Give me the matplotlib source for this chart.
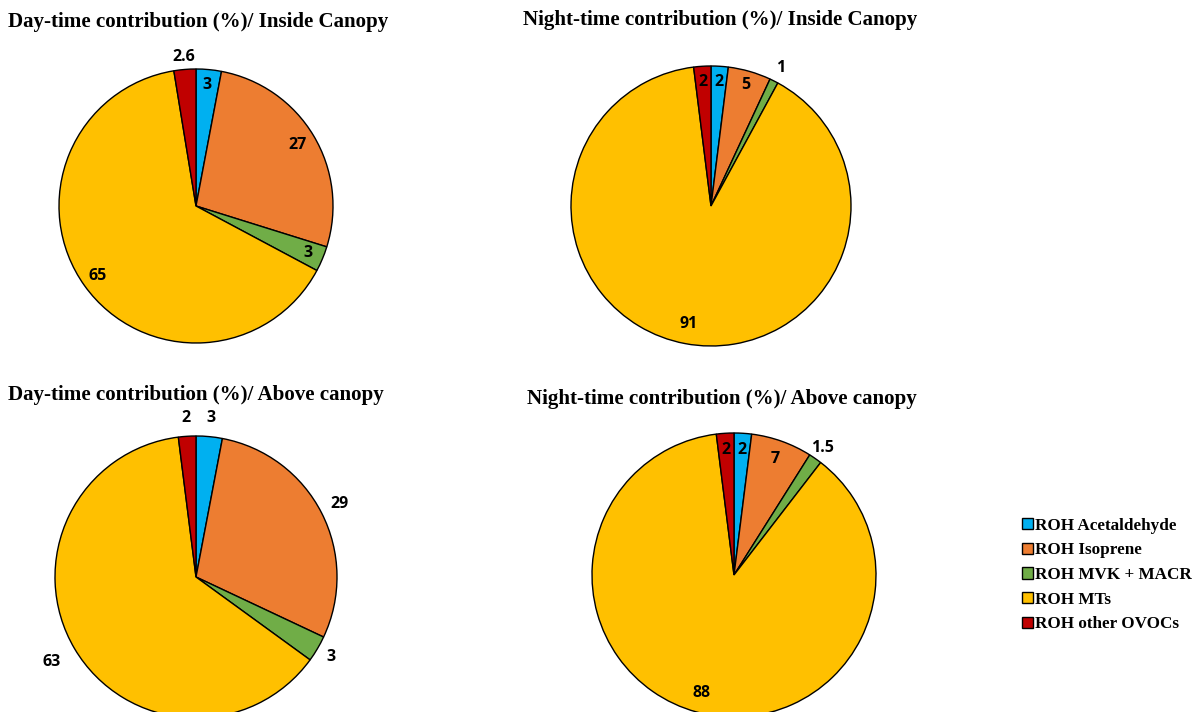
import numpy as np
import matplotlib
matplotlib.use("Agg")
import matplotlib.pyplot as plt
from matplotlib.patches import Patch

# ROH contributions (%) per VOC group
species = ["ROH Acetaldehyde", "ROH Isoprene", "ROH MVK + MACR", "ROH MTs", "ROH other OVOCs"]
colors = ["#00B0F0", "#ED7D31", "#70AD47", "#FFC000", "#C00000"]

day_inside = [3, 27, 3, 65, 2.6]
night_inside = [2, 5, 1, 91, 2]
day_above = [3, 29, 3, 63, 2]
night_above = [2, 7, 1.5, 88, 2]

day_inside_labels = ["3", "27", "3", "65", "2.6"]
night_inside_labels = ["2", "5", "1", "91", "2"]
day_above_labels = ["3", "29", "3", "63", "2"]
night_above_labels = ["2", "7", "1.5", "88", "2"]

W, H = 1194, 712
fig = plt.figure(figsize=(W / 100, H / 100), dpi=100)
fig.patch.set_facecolor("white")

title_font = dict(family="Liberation Serif", weight="bold", size=15.1)
label_font = dict(family="Open Sans", weight="bold", size=11.5)


def draw_pie(values, labels, cx, cy, r, dists, title, tx, ty):
    # axes placed in pixel units, pie fills the unit circle
    ax = fig.add_axes([(cx - r) / W, (H - cy - r) / H, 2 * r / W, 2 * r / H])
    wedges, _ = ax.pie(values, colors=colors, startangle=90, counterclock=False,
                       radius=1, normalize=True,
                       wedgeprops=dict(edgecolor="black", linewidth=1))
    ax.set_xlim(-1, 1)
    ax.set_ylim(-1, 1)
    ax.set_aspect("equal")
    ax.axis("off")
    # value labels at the middle angle of each wedge
    for w, lab, d in zip(wedges, labels, dists):
        w.set_clip_on(False)
        ang = np.deg2rad((w.theta1 + w.theta2) / 2)
        ax.text(d * np.cos(ang), d * np.sin(ang), lab, ha="center", va="center",
                clip_on=False, **label_font)
    fig.text(tx / W, 1 - ty / H, title, ha="center", va="center", **title_font)


draw_pie(day_inside, day_inside_labels, 196, 206, 137,
         [0.89, 0.86, 0.89, 0.88, 1.09],
         "Day-time contribution (%)/ Inside Canopy", 198, 22)
draw_pie(night_inside, night_inside_labels, 711, 206, 140,
         [0.89, 0.9, 1.1, 0.86, 0.89],
         "Night-time contribution (%)/ Inside Canopy", 720, 20)
draw_pie(day_above, day_above_labels, 196, 577, 141,
         [1.13, 1.14, 1.11, 1.19, 1.13],
         "Day-time contribution (%)/ Above canopy", 196, 395)
draw_pie(night_above, night_above_labels, 734, 575, 142,
         [0.88, 0.87, 1.09, 0.86, 0.88],
         "Night-time contribution (%)/ Above canopy", 722, 399)

handles = [Patch(facecolor=c, edgecolor="black", linewidth=1) for c in colors]
fig.legend(handles, species, loc="center left", bbox_to_anchor=(1022 / W, 1 - 575 / H),
           frameon=False, handlelength=0.62, handleheight=0.62, handletextpad=0.16,
           labelspacing=0.5, borderaxespad=0, borderpad=0,
           prop=dict(family="Liberation Serif", weight="bold", size=12.3))

fig.savefig("out.png", dpi=100)
